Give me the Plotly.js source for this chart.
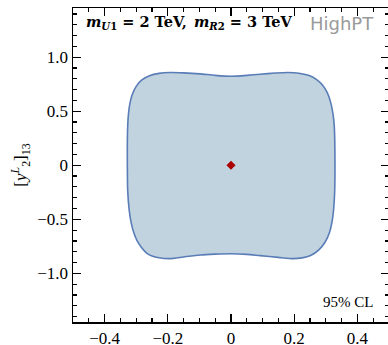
<!DOCTYPE html>
<html><head><meta charset="utf-8">
<script src="https://cdn.plot.ly/plotly-3.0.1.min.js"></script>
<style>html,body{margin:0;padding:0;overflow:hidden;background:#fff}</style>
</head><body><div id="chart"></div>
<script>
// 95% CL contour
var contourX = [-0.328, -0.328, -0.326, -0.321, -0.313, -0.300, -0.282, -0.258, -0.228, -0.193, -0.150, -0.098, -0.050, 0.000, 0.050, 0.092, 0.140, 0.180, 0.215, 0.245, 0.270, 0.290, 0.305, 0.316, 0.323, 0.327, 0.329, 0.328, 0.325, 0.320, 0.312, 0.298, 0.278, 0.252, 0.225, 0.196, 0.150, 0.092, 0.050, 0.000, -0.050, -0.098, -0.150, -0.193, -0.228, -0.250, -0.265, -0.282, -0.297, -0.308, -0.316, -0.322, -0.327, -0.328];
var contourY = [0.000, 0.233, 0.418, 0.555, 0.650, 0.730, 0.789, 0.828, 0.850, 0.858, 0.855, 0.846, 0.832, 0.824, 0.832, 0.842, 0.853, 0.858, 0.852, 0.832, 0.795, 0.740, 0.670, 0.575, 0.470, 0.353, 0.050, -0.250, -0.400, -0.520, -0.620, -0.710, -0.782, -0.835, -0.857, -0.864, -0.852, -0.836, -0.824, -0.818, -0.822, -0.830, -0.848, -0.864, -0.856, -0.840, -0.818, -0.765, -0.700, -0.620, -0.530, -0.420, -0.230, 0.000];
var bestX = [0];
var bestY = [0];
var xTickVals = [-0.4, -0.2, 0, 0.2, 0.4];
var xTickText = ["\u22120.4", "\u22120.2", "0", "0.2", "0.4"];
var yTickVals = [-1.0, -0.5, 0, 0.5, 1.0];
var yTickText = ["\u22121.0", "\u22120.5", "0", "0.5", "1.0"];

var serif = "'Liberation Serif', 'Times New Roman', serif";
var traces = [
  {x: contourX, y: contourY, type: 'scatter', mode: 'lines', fill: 'toself',
   fillcolor: 'rgb(192,211,222)', line: {color: 'rgb(90,125,184)', width: 1.6, shape: 'spline', smoothing: 0.6},
   hoverinfo: 'skip', showlegend: false},
  {x: bestX, y: bestY, type: 'scatter', mode: 'markers',
   marker: {symbol: 'diamond', size: 7, color: 'rgb(170,0,0)'}, showlegend: false}
];
function axisCommon() {
  return {
    showgrid: false, zeroline: false, showline: true, linecolor: '#000', linewidth: 1.5,
    mirror: 'allticks', ticks: 'inside', ticklen: 8, tickwidth: 1.3, tickcolor: '#000',
    tickfont: {family: serif, size: 17, color: '#000'}
  };
}
var layout = {
  width: 390, height: 345,
  font: {family: serif, size: 17, color: '#000'},
  margin: {l: 73, r: 1, t: 8, b: 23},
  paper_bgcolor: '#fff', plot_bgcolor: '#fff',
  xaxis: Object.assign(axisCommon(), {
    range: [-0.5, 0.5], tickmode: 'array', tickvals: xTickVals, ticktext: xTickText,
    minor: {dtick: 0.05, tick0: 0, ticks: 'inside', ticklen: 4, tickwidth: 1.2, tickcolor: '#000'}
  }),
  yaxis: Object.assign(axisCommon(), {
    range: [-1.45, 1.455], tickmode: 'array', tickvals: yTickVals, ticktext: yTickText,
    minor: {dtick: 0.1, tick0: 0, ticks: 'inside', ticklen: 4, tickwidth: 1.2, tickcolor: '#000'},
    title: {text: "[<i>y</i><sup><i>L</i></sup><sub>2</sub>]<sub>13</sub>", font: {family: serif, size: 17, color: '#000'}, standoff: 6}
  }),
  annotations: [
    {xref: 'paper', yref: 'paper', x: 0.036, y: 0.953, xanchor: 'left', yanchor: 'middle', showarrow: false,
     text: "<b><i>m</i><sub><i>U</i>1</sub> = 2 TeV,\u2002<i>m</i><sub><i>R</i>2</sub> = 3 TeV</b>",
     font: {family: "'DejaVu Serif', serif", size: 14.5, color: '#000'}},
    {xref: 'paper', yref: 'paper', x: 0.96, y: 0.952, xanchor: 'right', yanchor: 'middle', showarrow: false,
     text: "HighPT", font: {family: "'DejaVu Sans', sans-serif", size: 18, color: '#9a9a9a'}},
    {xref: 'paper', yref: 'paper', x: 0.955, y: 0.065, xanchor: 'right', yanchor: 'middle', showarrow: false,
     text: "95% CL", font: {family: serif, size: 15, color: '#000'}}
  ]
};
Plotly.newPlot('chart', traces, layout, {staticPlot: true, displayModeBar: false});
</script></body></html>
